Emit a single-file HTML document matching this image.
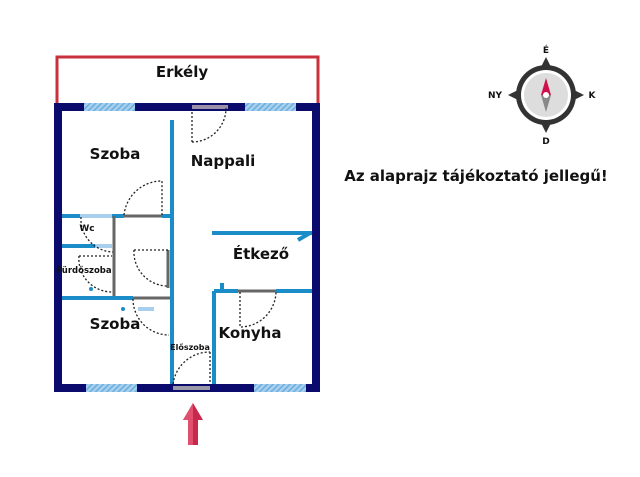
<!DOCTYPE html><html><head><style>body{margin:0;background:#fff}svg{display:block}text{font-family:"DejaVu Sans","Liberation Sans",sans-serif;font-weight:bold;fill:#111}</style></head><body>
<svg width="640" height="477" viewBox="0 0 640 477" xmlns="http://www.w3.org/2000/svg">
<defs><pattern id="h" width="4" height="4" patternUnits="userSpaceOnUse" patternTransform="rotate(45)"><rect width="4" height="4" fill="#a8d0ee"/><rect width="1.5" height="4" fill="#6aaede"/></pattern></defs>
<rect x="57" y="57" width="261" height="48" fill="none" stroke="#c8323c" stroke-width="3"/>
<text x="182" y="77" font-size="15" text-anchor="middle">Erkély</text>
<g fill="#0b0b6e"><rect x="54" y="103" width="266" height="8"/><rect x="54" y="103" width="8" height="289"/><rect x="312" y="103" width="8" height="289"/><rect x="54" y="384" width="266" height="8"/></g>
<rect x="84" y="103" width="51" height="8" fill="url(#h)"/><rect x="245" y="103" width="51" height="8" fill="url(#h)"/>
<rect x="86" y="384" width="51" height="8" fill="url(#h)"/><rect x="254" y="384" width="52" height="8" fill="url(#h)"/>
<rect x="192" y="105" width="36" height="4" fill="#9a90a8"/><rect x="173" y="386" width="37" height="4" fill="#9a9aa8"/>
<g stroke="#1a8cc8" stroke-width="4" fill="none">
<line x1="172" y1="120" x2="172" y2="384"/><line x1="62" y1="216" x2="124" y2="216"/><line x1="162" y1="216" x2="172" y2="216"/>
<line x1="62" y1="246" x2="95" y2="246"/><line x1="62" y1="298" x2="133" y2="298"/>
<line x1="212" y1="233" x2="312" y2="233"/><line x1="298" y1="240" x2="310" y2="233"/>
<line x1="214" y1="291" x2="238" y2="291"/><line x1="276" y1="291" x2="312" y2="291"/><line x1="214" y1="291" x2="214" y2="384"/><line x1="222" y1="283" x2="222" y2="291"/>
</g>
<g stroke="#a8d0ee" stroke-width="4"><line x1="80" y1="216" x2="112" y2="216"/><line x1="95" y1="246" x2="112" y2="246"/><line x1="138" y1="309" x2="154" y2="309"/></g>
<g stroke="#666" stroke-width="3"><line x1="124" y1="216" x2="162" y2="216"/><line x1="114" y1="216" x2="114" y2="296"/><line x1="133" y1="298" x2="170" y2="298"/><line x1="238" y1="291" x2="276" y2="291"/><line x1="168" y1="250" x2="168" y2="288"/></g>
<g stroke="#222" stroke-width="1.3" stroke-dasharray="2,2" fill="none">
<path d="M192 142 L192 110 M192 142 A34 34 0 0 0 226 108"/>
<path d="M124 215 A38 38 0 0 1 162 181 L162 215"/>
<path d="M81 217 A33 33 0 0 0 113 252"/><path d="M79 256 L112 256 M79 256 A33 33 0 0 0 112 292"/>
<path d="M134 250 L168 250 M134 250 A34 34 0 0 0 168 286"/><path d="M133 299 A36 36 0 0 0 169 335"/>
<path d="M240 292 L240 327 A36 36 0 0 0 276 292"/><path d="M210 352 L210 384 M173 384 A37 37 0 0 1 210 352"/>
</g>
<circle cx="91" cy="289" r="2" fill="#1a8cc8"/><circle cx="123" cy="309" r="2" fill="#1a8cc8"/>
<text x="115" y="159" font-size="15" text-anchor="middle">Szoba</text>
<text x="223" y="166" font-size="15" text-anchor="middle">Nappali</text>
<text x="87" y="231" font-size="9" text-anchor="middle">Wc</text>
<text x="84" y="273" font-size="8.5" text-anchor="middle">Fürdőszoba</text>
<text x="261" y="259" font-size="15" text-anchor="middle">Étkező</text>
<text x="115" y="329" font-size="15" text-anchor="middle">Szoba</text>
<text x="250" y="338" font-size="15" text-anchor="middle">Konyha</text>
<text x="190" y="350" font-size="8" text-anchor="middle">Előszoba</text>
<text x="476" y="181" font-size="15" text-anchor="middle">Az alaprajz tájékoztató jellegű!</text>
<path d="M193 403 L203 420 L198 420 L198 445 L188 445 L188 420 L183 420 Z" fill="#c8284c"/><path d="M193 403 L193 445 L188 445 L188 420 L183 420 Z" fill="#e0506e"/>
<g transform="translate(546,95)">
<path d="M0 -38 L8 -22 L22 -8 L38 0 L22 8 L8 22 L0 38 L-8 22 L-22 8 L-38 0 L-22 -8 L-8 -22 Z" fill="#333"/>
<circle r="30" fill="#333"/><circle r="25" fill="#fff"/><circle r="22" fill="#ddd"/>
<path d="M0 -17 L5 0 L-5 0 Z" fill="#d0104c"/><path d="M0 17 L5 0 L-5 0 Z" fill="#888"/><circle r="3" fill="#fff"/>
</g>
<text x="546" y="53" font-size="9" text-anchor="middle" fill="#555">É</text>
<text x="546" y="144" font-size="9" text-anchor="middle">D</text>
<text x="495" y="98" font-size="9" text-anchor="middle">NY</text>
<text x="592" y="98" font-size="9" text-anchor="middle">K</text>
</svg></body></html>
